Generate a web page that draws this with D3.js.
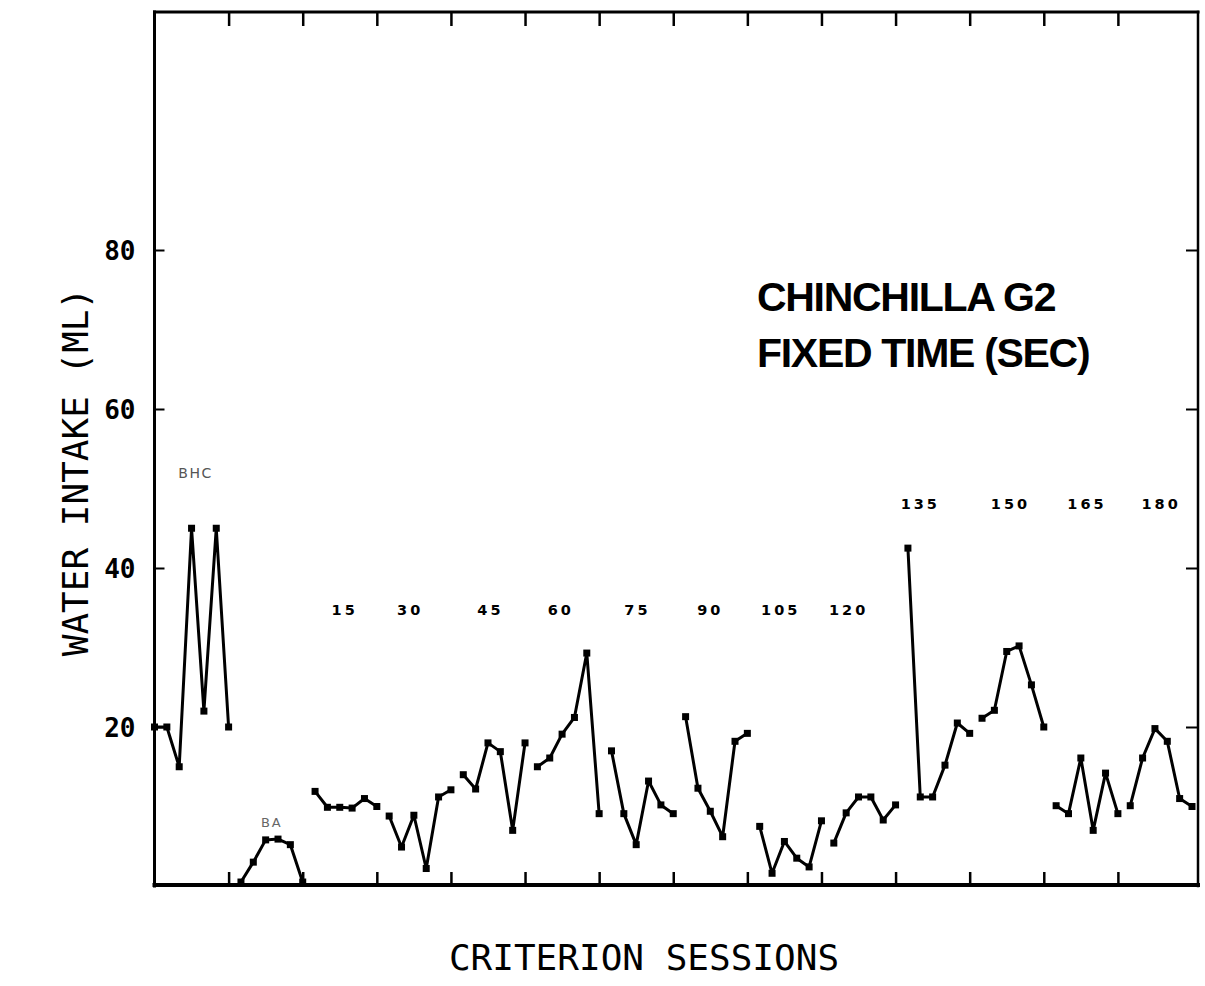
<!DOCTYPE html>
<html>
<head>
<meta charset="utf-8">
<script src="https://cdn.jsdelivr.net/npm/d3@7"></script>
<style>
  html, body { margin: 0; padding: 0; background: #fff; }
  svg { display: block; }
</style>
</head>
<body>
<svg id="chart" width="1205" height="986"></svg>
<script>
// Water intake per criterion session, one short run per schedule phase.
const phaseNames = ["BHC", "BA", "15", "30", "45", "60", "75", "90", "105", "120", "135", "150", "165", "180"];

const bhcIntake   = [20, 20, 15, 45, 22, 45, 20];
const baIntake    = [0.5, 3, 5.8, 5.9, 5.2, 0.5];
const ft15Intake  = [11.9, 9.9, 9.9, 9.8, 11.0, 10.0];
const ft30Intake  = [8.8, 4.9, 8.9, 2.2, 11.2, 12.1];
const ft45Intake  = [14.0, 12.2, 18.0, 16.9, 7.0, 18.0];
const ft60Intake  = [15.0, 16.1, 19.1, 21.2, 29.3, 9.1];
const ft75Intake  = [17.0, 9.1, 5.2, 13.2, 10.2, 9.1];
const ft90Intake  = [21.3, 12.3, 9.4, 6.2, 18.2, 19.2];
const ft105Intake = [7.5, 1.6, 5.6, 3.5, 2.4, 8.2];
const ft120Intake = [5.4, 9.2, 11.2, 11.2, 8.3, 10.2];
const ft135Intake = [42.5, 11.2, 11.2, 15.2, 20.5, 19.2];
const ft150Intake = [21.1, 22.1, 29.5, 30.2, 25.3, 20.0];
const ft165Intake = [10.1, 9.1, 16.1, 7.0, 14.2, 9.1];
const ft180Intake = [10.1, 16.1, 19.8, 18.2, 11.0, 10.0];

const phaseIntake = [bhcIntake, baIntake, ft15Intake, ft30Intake, ft45Intake, ft60Intake,
  ft75Intake, ft90Intake, ft105Intake, ft120Intake, ft135Intake, ft150Intake, ft165Intake, ft180Intake];

// Session (in x units) over which each fixed-time label is centred.
const phaseLabelSession = [null, null, 15.4, 20.7, 27.2, 32.9, 39.1, 45.0, 50.7, 56.2, 62.0, 69.3, 75.5, 81.5];

const xTickSessions = [6, 12, 18, 24, 30, 36, 42, 48, 54, 60, 66, 72, 78];
const yTickValues = [20, 40, 60, 80];
const yTickLabels = ["20", "40", "60", "80"];

// Assign consecutive session numbers across phases.
let sessionCursor = 0;
const phases = phaseNames.map((name, i) => {
  const pts = phaseIntake[i].map((v, j) => ({ session: sessionCursor + j, value: v }));
  sessionCursor += phaseIntake[i].length;
  return { name, pts, labelAt: phaseLabelSession[i] };
});

const svg = d3.select("#chart");
const plotLeft = 154.5, plotRight = 1198, plotTop = 12, plotBottom = 886;

const x = d3.scaleLinear().domain([0, 84]).range([plotLeft, 1192]);
const y = d3.scaleLinear().domain([0, 110]).range([plotBottom, 11.5]);

// Frame
const frame = svg.append("g").attr("stroke", "#000").attr("fill", "none").attr("stroke-linecap", "square");
frame.append("line").attr("x1", plotLeft).attr("x2", plotLeft).attr("y1", plotTop).attr("y2", plotBottom).attr("stroke-width", 3);
frame.append("line").attr("x1", plotLeft).attr("x2", plotRight).attr("y1", plotTop).attr("y2", plotTop).attr("stroke-width", 3);
frame.append("line").attr("x1", plotRight).attr("x2", plotRight).attr("y1", plotTop).attr("y2", plotBottom).attr("stroke-width", 2.5);
frame.append("line").attr("x1", plotLeft).attr("x2", plotRight).attr("y1", plotBottom - 1).attr("y2", plotBottom - 1).attr("stroke-width", 4);

// Session ticks, bottom (pointing up) and top (pointing down)
const bottomAxis = d3.axisBottom(x).tickValues(xTickSessions).tickSize(-13).tickFormat("");
const topAxis = d3.axisTop(x).tickValues(xTickSessions).tickSize(-14).tickFormat("");
svg.append("g").attr("transform", `translate(0,${plotBottom - 1})`).call(bottomAxis)
  .call(g => g.select(".domain").remove())
  .call(g => g.selectAll(".tick line").attr("stroke", "#000").attr("stroke-width", 2.5));
svg.append("g").attr("transform", `translate(0,${plotTop})`).call(topAxis)
  .call(g => g.select(".domain").remove())
  .call(g => g.selectAll(".tick line").attr("stroke", "#000").attr("stroke-width", 2.5));

// Intake ticks, left with labels and right mirrored
const leftAxis = d3.axisLeft(y).tickValues(yTickValues).tickSize(-10).tickPadding(19)
  .tickFormat((d, i) => yTickLabels[i]);
svg.append("g").attr("transform", `translate(${plotLeft},0)`).call(leftAxis)
  .call(g => g.select(".domain").remove())
  .call(g => g.selectAll(".tick line").attr("stroke", "#000").attr("stroke-width", 2))
  .call(g => g.selectAll(".tick text")
    .attr("fill", "#000")
    .attr("font-family", "'DejaVu Sans Mono', monospace")
    .attr("font-weight", "bold")
    .attr("font-size", 26)
    .attr("dy", "0.36em"));
const rightAxis = d3.axisRight(y).tickValues(yTickValues).tickSize(-12).tickFormat("");
svg.append("g").attr("transform", `translate(${plotRight},0)`).call(rightAxis)
  .call(g => g.select(".domain").remove())
  .call(g => g.selectAll(".tick line").attr("stroke", "#000").attr("stroke-width", 2));

// Phase runs
const line = d3.line().x(d => x(d.session)).y(d => y(d.value));
const runs = svg.append("g");
phases.forEach(p => {
  runs.append("path")
    .attr("d", line(p.pts))
    .attr("fill", "none")
    .attr("stroke", "#000")
    .attr("stroke-width", 3)
    .attr("stroke-linejoin", "round");
  runs.selectAll(null).data(p.pts).enter().append("rect")
    .attr("x", d => x(d.session) - 3.5)
    .attr("y", d => y(d.value) - 3.5)
    .attr("width", 7).attr("height", 7)
    .attr("fill", "#000");
});

// Fixed-time labels
const lowRow = ["15", "30", "45", "60", "75", "90", "105", "120"];
svg.append("g").selectAll("text")
  .data(phases.filter(p => p.labelAt !== null))
  .enter().append("text")
  .attr("x", d => x(d.labelAt))
  .attr("y", d => lowRow.includes(d.name) ? 615 : 509)
  .attr("text-anchor", "middle")
  .attr("font-family", "'DejaVu Sans', sans-serif")
  .attr("font-weight", "bold")
  .attr("font-size", 14.5)
  .attr("letter-spacing", 3)
  .attr("fill", "#000")
  .text(d => d.name);

// Baseline phase labels (lighter)
const bhcCenter = d3.mean(phases[0].pts, d => d.session);
const baCenter = d3.mean(phases[1].pts, d => d.session);
svg.append("text")
  .attr("x", x(bhcCenter) + 4).attr("y", 478)
  .attr("text-anchor", "middle")
  .attr("font-family", "'DejaVu Sans', sans-serif")
  .attr("font-size", 14).attr("letter-spacing", 1.5)
  .attr("fill", "#555")
  .text("BHC");
svg.append("text")
  .attr("x", x(baCenter)).attr("y", 827)
  .attr("text-anchor", "middle")
  .attr("font-family", "'DejaVu Sans', sans-serif")
  .attr("font-size", 13).attr("letter-spacing", 2)
  .attr("fill", "#666")
  .text("BA");

// Subject annotation
const note = svg.append("text")
  .attr("font-family", "'Liberation Sans', Arial, sans-serif")
  .attr("font-weight", "bold")
  .attr("font-size", 41)
  .attr("letter-spacing", -1.3)
  .attr("fill", "#000");
note.append("tspan").attr("x", 757).attr("y", 311).text("CHINCHILLA G2");
note.append("tspan").attr("x", 757).attr("y", 367).text("FIXED TIME (SEC)");

// Axis titles
svg.append("text")
  .attr("x", 644).attr("y", 970)
  .attr("text-anchor", "middle")
  .attr("font-family", "'DejaVu Sans Mono', monospace")
  .attr("font-size", 36)
  .attr("fill", "#000")
  .text("CRITERION SESSIONS");
svg.append("text")
  .attr("transform", "translate(88,472) rotate(-90)")
  .attr("text-anchor", "middle")
  .attr("font-family", "'DejaVu Sans Mono', monospace")
  .attr("font-size", 36)
  .attr("fill", "#000")
  .text("WATER INTAKE (ML)");
</script>
</body>
</html>
